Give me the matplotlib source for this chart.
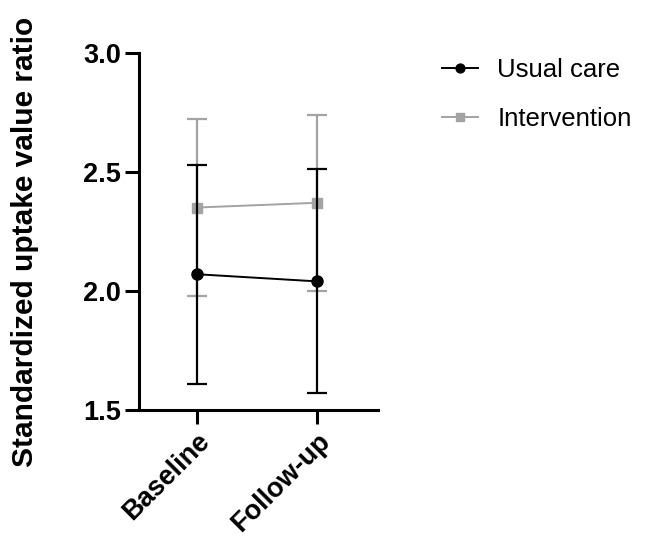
import matplotlib
matplotlib.use("Agg")
import matplotlib.pyplot as plt

plt.rcParams["font.family"] = ["Liberation Sans", "DejaVu Sans"]

# data
timepoints = ["Baseline", "Follow-up"]
usual_mean = [2.07, 2.04]
usual_sd = [0.46, 0.47]
interv_mean = [2.35, 2.37]
interv_sd = [0.37, 0.37]

GRAY = "#a3a3a3"

fig = plt.figure(figsize=(6.47, 5.4), dpi=100)
ax = fig.add_axes([0.2148, 0.2407, 0.3694, 0.6617])

x = list(range(len(timepoints)))

# gray group below, black group on top (black bars run over the squares)
ax.errorbar(x, interv_mean, yerr=interv_sd, fmt="none", ecolor=GRAY,
            elinewidth=1.6, capsize=7, capthick=1.6, zorder=1)
ax.plot(x, interv_mean, color=GRAY, lw=1.4, marker="s", ms=7.5,
        label="Intervention", zorder=2)
ax.errorbar(x, usual_mean, yerr=usual_sd, fmt="none", ecolor="black",
            elinewidth=1.6, capsize=7, capthick=1.6, zorder=3)
ax.plot(x, usual_mean, color="black", lw=1.4, marker="o", ms=8,
        label="Usual care", zorder=4)

ax.set_xlim(-0.483, 1.508)
ax.set_ylim(1.5, 3.0)
ax.set_yticks([1.5, 2.0, 2.5, 3.0])
ax.set_yticklabels(["1.5", "2.0", "2.5", "3.0"], fontsize=19.5, fontweight="bold")
ax.set_xticks(x)
ax.set_xticklabels(timepoints, rotation=45, ha="right", rotation_mode="anchor",
                   fontsize=19.5, fontweight="bold")

for side in ("top", "right"):
    ax.spines[side].set_visible(False)
for side in ("left", "bottom"):
    ax.spines[side].set_linewidth(2.2)
ax.tick_params(width=2.2, length=10, pad=3)

ax.set_ylabel("Standardized uptake value ratio", fontsize=21.5,
              fontweight="bold")
ax.yaxis.set_label_coords(-0.42, 0.47)

handles, labels = ax.get_legend_handles_labels()
fig.legend(handles[::-1], labels[::-1], loc="upper left",
           bbox_to_anchor=(0.647, 0.935), frameon=False,
           fontsize=18.5, handlelength=1.4, labelspacing=0.95,
           handletextpad=0.76, markerscale=0.8)

fig.savefig("out.png", dpi=100)
